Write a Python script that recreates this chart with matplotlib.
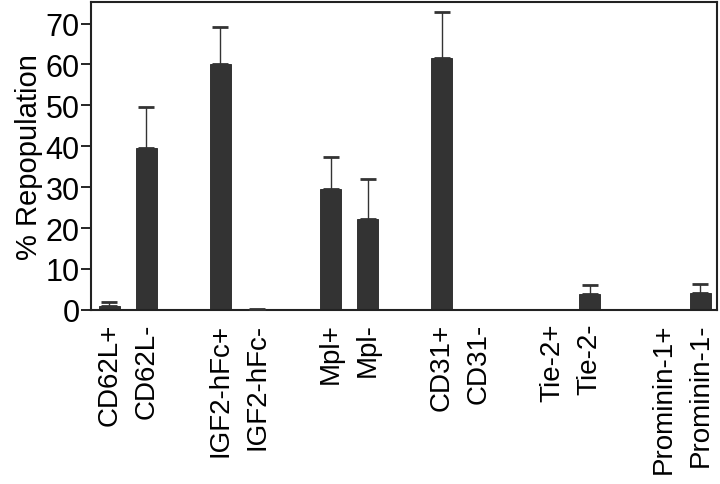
import matplotlib
matplotlib.use("Agg")
import numpy as np
from matplotlib import pyplot as plt

# data
labels = ["CD62L+", "CD62L-", "IGF2-hFc+", "IGF2-hFc-", "Mpl+", "Mpl-",
          "CD31+", "CD31-", "Tie-2+", "Tie-2-", "Prominin-1+", "Prominin-1-"]
values = [0.9, 39.7, 60.0, 0.0, 29.5, 22.2, 61.7, 0.0, 0.0, 3.8, 0.0, 4.1]
errors = [1.1, 9.8, 9.2, 0.3, 8.0, 9.8, 11.1, 0.0, 0.0, 2.2, 0.0, 2.3]
yticks = [0, 10, 20, 30, 40, 50, 60, 70]

plt.rcParams['font.family'] = ['Liberation Sans', 'DejaVu Sans']

fig = plt.figure(figsize=(7.2, 4.85), dpi=100)
ax = fig.add_axes([0.126, 0.359, 0.87, 0.635])

# pairs of bars with a gap of one slot between groups
pos = np.array([(i // 2) * 3 + (i % 2) for i in range(len(labels))])

bar_color = "#333333"
ax.bar(pos, values, width=0.57, color=bar_color, edgecolor="#222222", linewidth=0.6, zorder=2)

# upper error bars only
has_err = np.array(errors) > 0
ax.errorbar(pos[has_err], np.array(values)[has_err],
            yerr=[np.zeros(has_err.sum()), np.array(errors)[has_err]],
            fmt="none", ecolor="#333333", elinewidth=1.0, capsize=5.5, capthick=2.0, zorder=3)

ax.set_xlim(-0.5, 16.45)
ax.set_ylim(0, 75.3)
ax.set_yticks(yticks)
ax.set_xticks(pos)
ax.set_xticklabels(labels, rotation=90, fontsize=20, va="top")
ax.tick_params(axis="x", length=0, pad=9)
ax.tick_params(axis="y", direction="out", length=7, width=1.2, labelsize=22, pad=1)
ax.set_ylabel("% Repopulation", fontsize=21, labelpad=2)

for sp in ax.spines.values():
    sp.set_linewidth(1.5)
    sp.set_color("#222222")

fig.savefig("out.png", dpi=100)
